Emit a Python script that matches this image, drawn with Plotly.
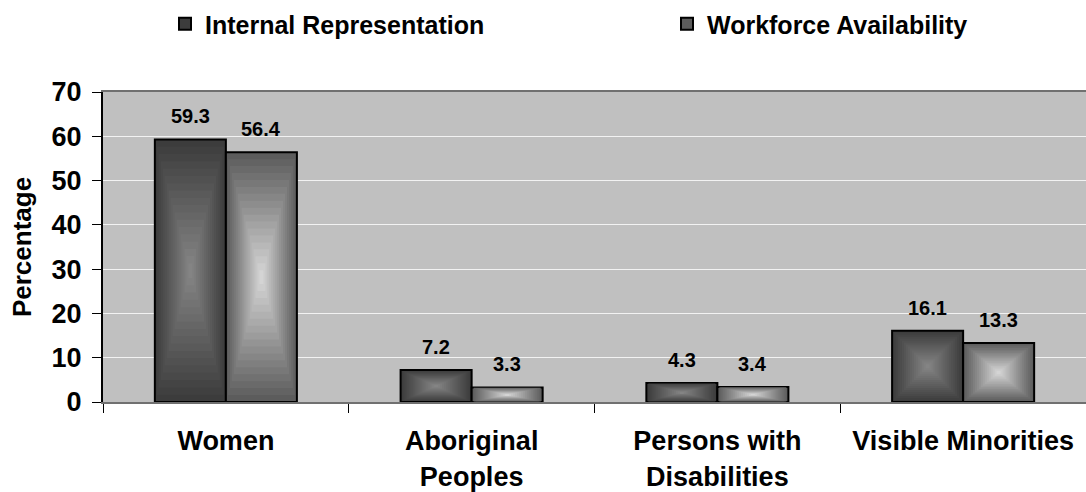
import plotly.graph_objects as go

# Employment equity representation, percentages by designated group
categories = ["Women", "Aboriginal<br>Peoples", "Persons with<br>Disabilities", "Visible Minorities"]
internal_representation = [59.3, 7.2, 4.3, 16.1]
workforce_availability = [56.4, 3.3, 3.4, 13.3]
series_names = ["Internal Representation", "Workforce Availability"]
y_ticks = [0, 10, 20, 30, 40, 50, 60, 70]

FONT = "Liberation Sans, Arial, sans-serif"
BAR_W = 0.289          # width of one bar in category units
LEVELS = 18            # concentric rings used for the box-gradient fill

# (edge colour, centre colour) of the gradient fill of each series
gradients = [((60, 60, 60), (132, 132, 132)),
             ((92, 92, 92), (212, 212, 212))]


def mix(c0, c1, t):
    return "rgb({},{},{})".format(*[round(a + (b - a) * t) for a, b in zip(c0, c1)])


fig = go.Figure()
idx = list(range(len(categories)))

for s, (name, values) in enumerate(zip(series_names, [internal_representation, workforce_availability])):
    centre = -BAR_W / 2 if s == 0 else BAR_W / 2
    edge, mid = gradients[s]
    for k in range(LEVELS):
        frac = 1 - k / LEVELS
        w = BAR_W * frac
        fig.add_trace(go.Bar(
            x=categories,
            y=[v * frac for v in values],
            base=[v * (1 - frac) / 2 for v in values],
            width=w,
            offset=centre - w / 2,
            marker=dict(color=mix(edge, mid, k / (LEVELS - 1)),
                        line=dict(color="black", width=2 if k == 0 else 0)),
            name=name,
            showlegend=(k == 0),
            legend="legend" if s == 0 else "legend2",
            hoverinfo="skip" if k else "y+name",
        ))
    # value labels above each bar
    for i, v in zip(idx, values):
        fig.add_annotation(x=i + centre, y=v, text="%.1f" % v, showarrow=False,
                           yanchor="bottom", yshift=10,
                           font=dict(family=FONT, size=20, color="black", weight="bold"))

legend_common = dict(orientation="h", xref="container", yref="container",
                     yanchor="middle", bgcolor="rgba(0,0,0,0)",
                     font=dict(family=FONT, size=25, color="black", weight="bold"))

fig.update_layout(
    width=1086, height=492,
    margin=dict(l=103, r=0, t=92, b=90),
    paper_bgcolor="white", plot_bgcolor="#c0c0c0",
    barmode="overlay",
    font=dict(family=FONT, color="black"),
    legend=dict(x=(205 - 40) / 1086, y=1 - 24 / 492, **legend_common),
    legend2=dict(x=(707 - 40) / 1086, y=1 - 24 / 492, **legend_common),
    xaxis=dict(type="category", categoryorder="array", categoryarray=categories,
               tickson="boundaries", ticks="outside", ticklen=9, tickcolor="black",
               showline=True, linecolor="#707070", linewidth=2, mirror=True,
               showgrid=False, tickfont=dict(family=FONT, size=27, weight="bold"),
               ticklabelstandoff=14, range=[-0.5, 3.5]),
    yaxis=dict(range=[0, 70], tickvals=y_ticks, ticks="outside", ticklen=9,
               tickcolor="black", showline=True, linecolor="black", linewidth=2,
               showgrid=True, gridcolor="#f2f2f2", gridwidth=1, zeroline=False,
               tickfont=dict(family=FONT, size=27, weight="bold"), ticklabelstandoff=5,
               title=dict(text="Percentage", font=dict(family=FONT, size=26, weight="bold"),
                          standoff=12)),
)

fig.write_html("out.html")
